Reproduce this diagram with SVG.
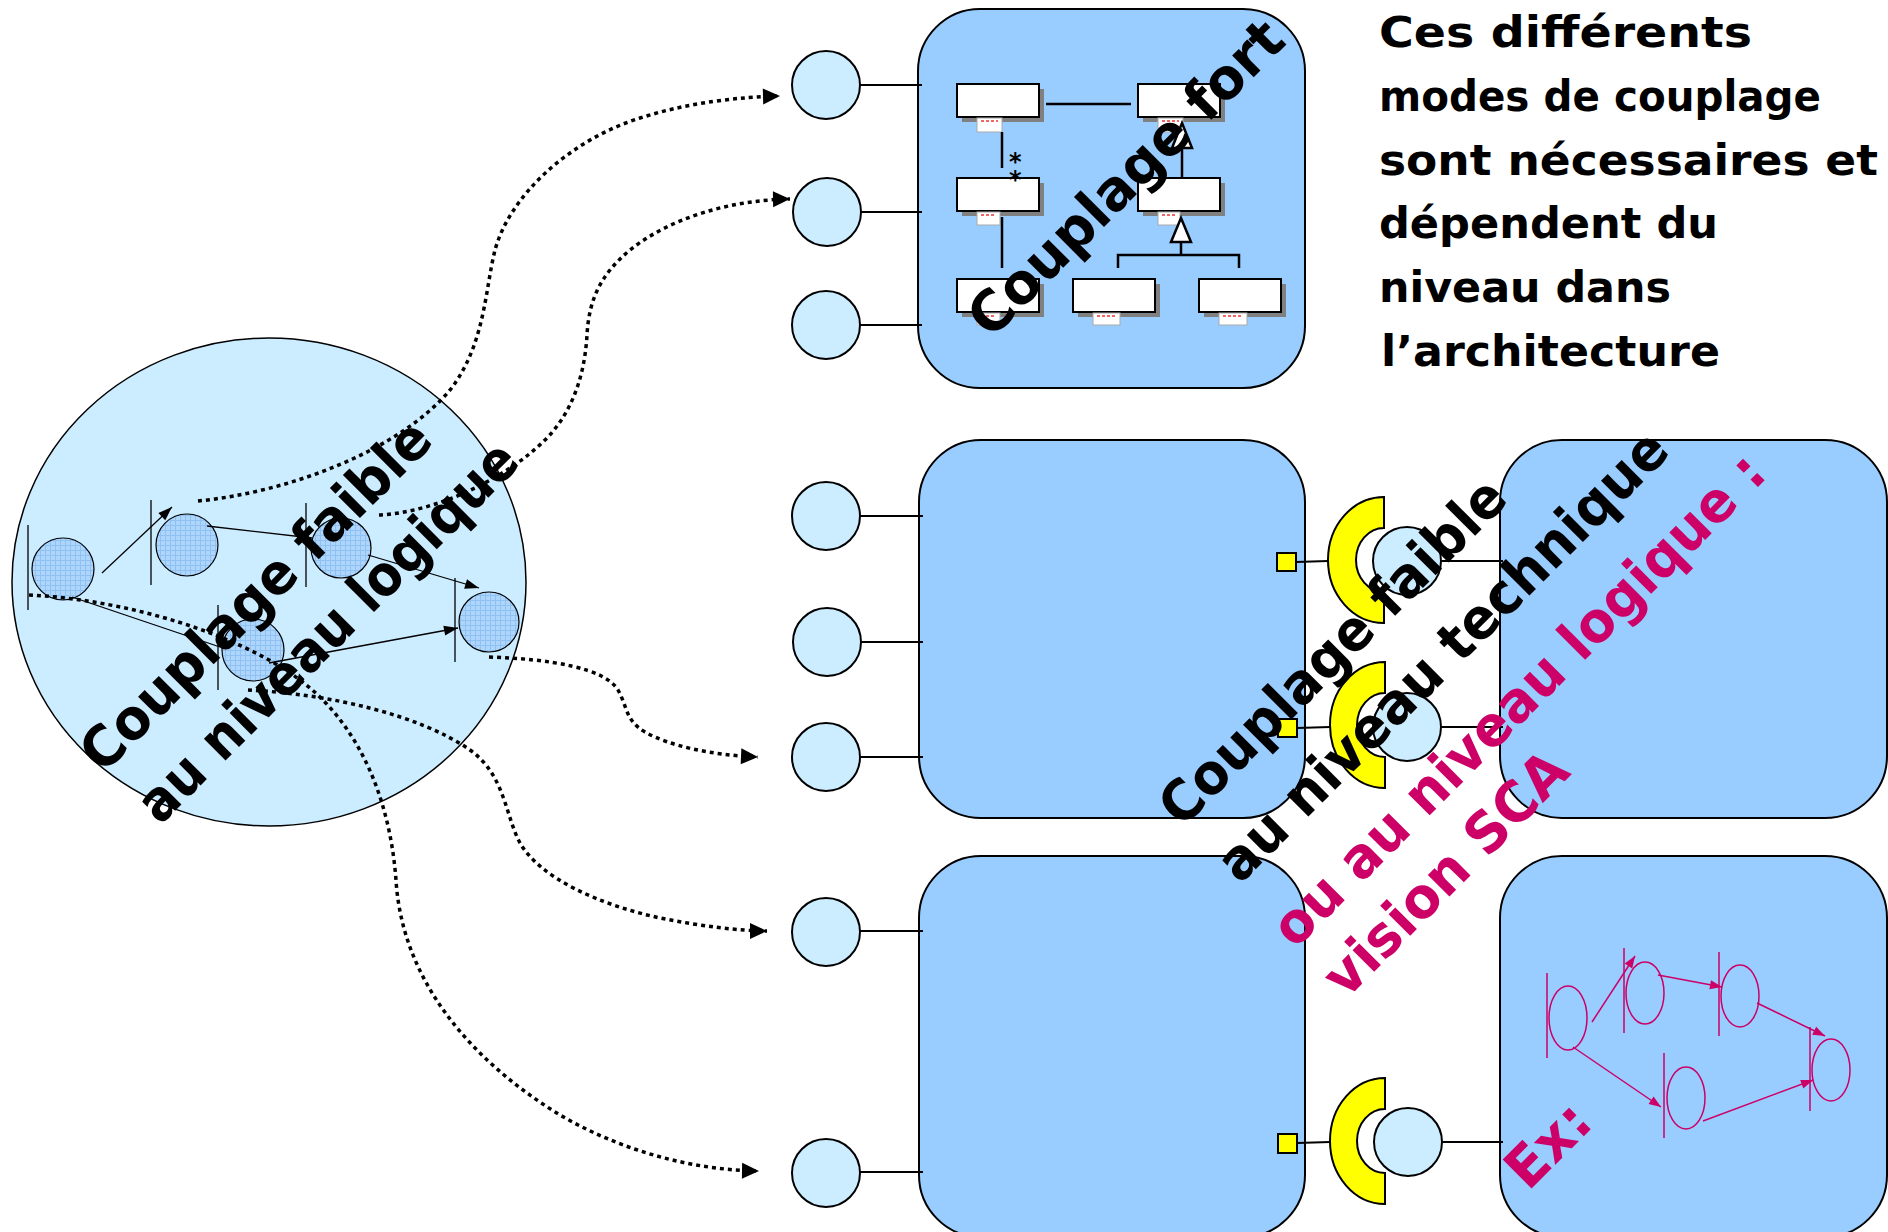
<svg xmlns="http://www.w3.org/2000/svg" width="1888" height="1232" viewBox="0 0 1888 1232">
<defs>
<style>
.rect{fill:#99CCFF;stroke:#000;stroke-width:2}
.port{fill:#CCECFF;stroke:#000;stroke-width:2}
.ln{stroke:#000;stroke-width:2;fill:none}
.dot{stroke:#000;stroke-width:3.5;stroke-dasharray:4 4;fill:none}
.rot{font-family:"DejaVu Sans",sans-serif;font-weight:bold;font-size:56px;fill:#000}
.mag{fill:#CC0066}
.note{font-family:"DejaVu Sans",sans-serif;font-weight:bold;font-size:43px;fill:#000}
.uml{fill:#fff;stroke:#000;stroke-width:2}
.shd{fill:#808080}
.tab{fill:#fff;stroke:#aaa;stroke-width:1}
.red{stroke:#e33;stroke-width:1.5;stroke-dasharray:3 2}
.umlln{stroke:#000;stroke-width:2.5;fill:none}
.inh{fill:#fff;stroke:#000;stroke-width:2.5}
.ring{fill:#FFFF00;stroke:#000;stroke-width:2}
.sq{fill:#FFFF00;stroke:#000;stroke-width:2}
.hn{fill:url(#hatch);stroke:#000;stroke-width:1.2}
.thin{stroke:#000;stroke-width:1.3;fill:none}
.mg{stroke:#CC0066;stroke-width:1.5;fill:none}
.star{font-family:"DejaVu Sans",sans-serif;font-weight:bold;font-size:24px;fill:#000}
</style>
<pattern id="hatch" patternUnits="userSpaceOnUse" width="5" height="5">
<rect width="5" height="5" fill="#AED6FC"/>
<path d="M0,0.5 H5 M0.5,0 V5" stroke="#8FC2F2" stroke-width="1"/>
</pattern>
<marker id="ah" markerUnits="userSpaceOnUse" markerWidth="18" markerHeight="17" refX="17" refY="8" orient="auto" overflow="visible">
<path d="M0,0 L17,8 L0,16 Z" fill="#000"/>
</marker>
<marker id="ahs" markerUnits="userSpaceOnUse" markerWidth="14" markerHeight="10" refX="14" refY="5" orient="auto" overflow="visible">
<path d="M0,0 L14,5 L0,10 Z" fill="#000"/>
</marker>
<marker id="ahm" markerUnits="userSpaceOnUse" markerWidth="12" markerHeight="9" refX="12" refY="4.5" orient="auto" overflow="visible">
<path d="M0,0 L12,4.5 L0,9 Z" fill="#CC0066"/>
</marker>
</defs>
<rect width="1888" height="1232" fill="#fff"/>

<!-- Big circle with logical process -->
<g id="logical-circle">
<ellipse cx="269" cy="582" rx="257" ry="244" fill="#CCECFF" stroke="#000" stroke-width="1.5"/>
<g id="proc">
<line class="thin" x1="28" y1="525" x2="28" y2="610"/>
<circle class="hn" cx="63" cy="569" r="31"/>
<line class="thin" x1="151" y1="500" x2="151" y2="585"/>
<circle class="hn" cx="187" cy="545" r="31"/>
<line class="thin" x1="306" y1="503" x2="306" y2="587"/>
<circle class="hn" cx="341" cy="548" r="30"/>
<line class="thin" x1="455" y1="578" x2="455" y2="662"/>
<circle class="hn" cx="489" cy="622" r="30"/>
<line class="thin" x1="218" y1="605" x2="218" y2="690"/>
<circle class="hn" cx="253" cy="650" r="31"/>
<line class="thin" x1="102" y1="573" x2="172" y2="507" marker-end="url(#ahs)"/>
<line class="thin" x1="207" y1="526" x2="312" y2="538"/>
<line class="thin" x1="368" y1="555" x2="479" y2="588" marker-end="url(#ahs)"/>
<line class="thin" x1="72" y1="597" x2="220" y2="647"/>
<line class="thin" x1="269" y1="663" x2="458" y2="628" marker-end="url(#ahs)"/>
</g>
</g>

<!-- Top component: strong coupling -->
<g id="comp-top">
<rect class="rect" x="918" y="9" width="387" height="379" rx="62" ry="62"/>
<g id="uml">
<rect class="shd" x="962" y="89" width="82" height="33"/><rect class="uml" x="957" y="84" width="82" height="33"/><rect class="tab" x="977" y="118" width="25" height="14"/><line class="red" x1="981" y1="121" x2="998" y2="121"/>
<rect class="shd" x="1143" y="89" width="82" height="33"/><rect class="uml" x="1138" y="84" width="82" height="33"/><rect class="tab" x="1158" y="118" width="25" height="14"/><line class="red" x1="1162" y1="121" x2="1179" y2="121"/>
<rect class="shd" x="962" y="183" width="82" height="33"/><rect class="uml" x="957" y="178" width="82" height="33"/><rect class="tab" x="977" y="212" width="23" height="13"/><line class="red" x1="981" y1="215" x2="996" y2="215"/>
<rect class="shd" x="1143" y="183" width="82" height="33"/><rect class="uml" x="1138" y="178" width="82" height="33"/><rect class="tab" x="1158" y="212" width="22" height="13"/><line class="red" x1="1162" y1="215" x2="1176" y2="215"/>
<rect class="shd" x="962" y="284" width="82" height="33"/><rect class="uml" x="957" y="279" width="82" height="33"/><rect class="tab" x="977" y="313" width="23" height="12"/><line class="red" x1="981" y1="316" x2="996" y2="316"/>
<rect class="shd" x="1078" y="284" width="82" height="33"/><rect class="uml" x="1073" y="279" width="82" height="33"/><rect class="tab" x="1093" y="313" width="27" height="12"/><line class="red" x1="1097" y1="316" x2="1115" y2="316"/>
<rect class="shd" x="1204" y="284" width="82" height="33"/><rect class="uml" x="1199" y="279" width="82" height="33"/><rect class="tab" x="1219" y="313" width="28" height="12"/><line class="red" x1="1223" y1="316" x2="1242" y2="316"/>
<line class="umlln" x1="1046" y1="104" x2="1131" y2="104"/>
<line class="umlln" x1="1002" y1="132" x2="1002" y2="168"/>
<text class="star" x="1009" y="170">*<tspan x="1009" dy="18">*</tspan></text>
<line class="umlln" x1="1002" y1="217" x2="1002" y2="268"/>
<line class="umlln" x1="1182" y1="177" x2="1182" y2="148"/>
<path class="inh" d="M1182,123 L1192,148 L1172,148 Z"/>
<path class="umlln" d="M1118,268 V255 H1239 V268 M1181,255 V242"/>
<path class="inh" d="M1181,218 L1191,242 L1171,242 Z"/>
</g>
</g>
<g id="port-t1"><circle class="port" cx="826" cy="85" r="34"/></g>
<g id="port-t2"><circle class="port" cx="827" cy="212" r="34"/></g>
<g id="port-t3"><circle class="port" cx="826" cy="325" r="34"/></g>

<!-- Middle components -->
<g id="comp-mid-left"><rect class="rect" x="919" y="440" width="386" height="378" rx="62" ry="62"/></g>
<g id="comp-mid-right"><rect class="rect" x="1500" y="440" width="387" height="378" rx="62" ry="62"/></g>
<g id="port-m1"><circle class="port" cx="826" cy="516" r="34"/></g>
<g id="port-m2"><circle class="port" cx="827" cy="642" r="34"/></g>
<g id="port-m3"><circle class="port" cx="826" cy="757" r="34"/></g>

<!-- Bottom components -->
<g id="comp-bot-left"><rect class="rect" x="919" y="856" width="386" height="381" rx="62" ry="62"/></g>
<g id="comp-bot-right">
<rect class="rect" x="1500" y="856" width="387" height="381" rx="62" ry="62"/>
<g id="sca-proc">
<line class="mg" x1="1547" y1="973" x2="1547" y2="1058"/>
<ellipse class="mg" cx="1568" cy="1018" rx="19" ry="32"/>
<line class="mg" x1="1624" y1="948" x2="1624" y2="1033"/>
<ellipse class="mg" cx="1645" cy="993" rx="19" ry="31"/>
<line class="mg" x1="1719" y1="952" x2="1719" y2="1036"/>
<ellipse class="mg" cx="1740" cy="996" rx="19" ry="31"/>
<line class="mg" x1="1810" y1="1027" x2="1810" y2="1111"/>
<ellipse class="mg" cx="1831" cy="1070" rx="19" ry="31"/>
<line class="mg" x1="1664" y1="1053" x2="1664" y2="1138"/>
<ellipse class="mg" cx="1686" cy="1098" rx="19" ry="31"/>
<line class="mg" x1="1592" y1="1022" x2="1635" y2="956" marker-end="url(#ahm)"/>
<line class="mg" x1="1658" y1="975" x2="1722" y2="987" marker-end="url(#ahm)"/>
<line class="mg" x1="1757" y1="1003" x2="1825" y2="1036" marker-end="url(#ahm)"/>
<line class="mg" x1="1573" y1="1047" x2="1661" y2="1107" marker-end="url(#ahm)"/>
<line class="mg" x1="1703" y1="1121" x2="1813" y2="1080" marker-end="url(#ahm)"/>
</g>
</g>
<g id="port-b1"><circle class="port" cx="826" cy="932" r="34"/></g>
<g id="port-b2"><circle class="port" cx="826" cy="1173" r="34"/></g>

<!-- Binding: reference / service -->
<g id="binding-1">
<rect class="sq" x="1277" y="553" width="19" height="18"/>
<path class="ring" d="M1384,497 A56,63 0 0 0 1384,623 L1384,592 A28,32 0 0 1 1384,528 Z"/>
<circle class="port" cx="1407" cy="561" r="34"/>
</g>
<g id="binding-2">
<rect class="sq" x="1278" y="719" width="19" height="18"/>
<path class="ring" d="M1385,662 A55,63 0 0 0 1385,788 L1385,757 A28,32 0 0 1 1385,693 Z"/>
<circle class="port" cx="1407" cy="727" r="34"/>
</g>
<g id="binding-3">
<rect class="sq" x="1278" y="1134" width="19" height="19"/>
<path class="ring" d="M1385,1078 A55,63 0 0 0 1385,1204 L1385,1173 A28,32 0 0 1 1385,1109 Z"/>
<circle class="port" cx="1408" cy="1142" r="34"/>
</g>

<!-- Connectors -->
<g id="connectors">
<line class="ln" x1="860" y1="85" x2="922" y2="85"/>
<line class="ln" x1="861" y1="212" x2="922" y2="212"/>
<line class="ln" x1="860" y1="325" x2="922" y2="325"/>
<line class="ln" x1="860" y1="516" x2="923" y2="516"/>
<line class="ln" x1="861" y1="642" x2="923" y2="642"/>
<line class="ln" x1="860" y1="757" x2="923" y2="757"/>
<line class="ln" x1="860" y1="931" x2="923" y2="931"/>
<line class="ln" x1="860" y1="1172" x2="923" y2="1172"/>
<line class="ln" x1="1296" y1="562" x2="1328" y2="561"/>
<line class="ln" x1="1441" y1="561" x2="1503" y2="561"/>
<line class="ln" x1="1297" y1="728" x2="1330" y2="727"/>
<line class="ln" x1="1441" y1="727" x2="1503" y2="727"/>
<line class="ln" x1="1297" y1="1143" x2="1330" y2="1142"/>
<line class="ln" x1="1442" y1="1142" x2="1503" y2="1142"/>
<path class="dot" marker-end="url(#ah)" d="M198,501 C290,492 400,450 450,390 C485,345 485,290 495,250 C510,195 570,140 640,118 C690,102 740,97 780,96"/>
<path class="dot" marker-end="url(#ah)" d="M379,515 C440,512 510,475 545,440 C575,410 585,370 587,335 C589,300 600,275 630,250 C670,218 730,200 790,199"/>
<path class="dot" marker-end="url(#ah)" d="M489,657 C550,659 605,668 618,690 C628,708 625,720 645,732 C670,746 710,755 758,757"/>
<path class="dot" marker-end="url(#ah)" d="M248,690 C330,694 420,715 470,750 C505,775 505,815 520,843 C540,878 600,905 660,918 C700,926 740,931 767,931"/>
<path class="dot" marker-end="url(#ah)" d="M29,595 C130,600 240,635 300,680 C360,725 390,800 396,880 C402,980 470,1060 560,1115 C620,1150 690,1170 759,1171"/>
</g>

<!-- Labels -->
<g id="labels">
<text class="rot" transform="translate(991,340) rotate(-45)" textLength="420" lengthAdjust="spacingAndGlyphs">Couplage fort</text>
<text class="rot" transform="translate(103,775) rotate(-45)" textLength="470" lengthAdjust="spacingAndGlyphs">Couplage faible</text>
<text class="rot" transform="translate(160,826) rotate(-45)" textLength="512" lengthAdjust="spacingAndGlyphs">au niveau logique</text>
<text class="rot" transform="translate(1182,829) rotate(-45)" textLength="464" lengthAdjust="spacingAndGlyphs">Couplage faible</text>
<text class="rot" transform="translate(1240,885) rotate(-45)" textLength="611" lengthAdjust="spacingAndGlyphs">au niveau technique</text>
<text class="rot mag" transform="translate(1295,950) rotate(-45)" textLength="670" lengthAdjust="spacingAndGlyphs">ou au niveau logique :</text>
<text class="rot mag" transform="translate(1346,1000) rotate(-45)" textLength="320" lengthAdjust="spacingAndGlyphs">vision SCA</text>
<text class="rot mag" transform="translate(1528,1192) rotate(-45)" textLength="95" lengthAdjust="spacingAndGlyphs">Ex:</text>
<text class="note" x="1379" y="47" textLength="373" lengthAdjust="spacingAndGlyphs">Ces différents</text>
<text class="note" x="1379" y="111" textLength="442" lengthAdjust="spacingAndGlyphs">modes de couplage</text>
<text class="note" x="1379" y="175" textLength="499" lengthAdjust="spacingAndGlyphs">sont nécessaires et</text>
<text class="note" x="1379" y="238" textLength="339" lengthAdjust="spacingAndGlyphs">dépendent du</text>
<text class="note" x="1379" y="302" textLength="292" lengthAdjust="spacingAndGlyphs">niveau dans</text>
<text class="note" x="1381" y="366" textLength="339" lengthAdjust="spacingAndGlyphs">l’architecture</text>
</g>
</svg>
